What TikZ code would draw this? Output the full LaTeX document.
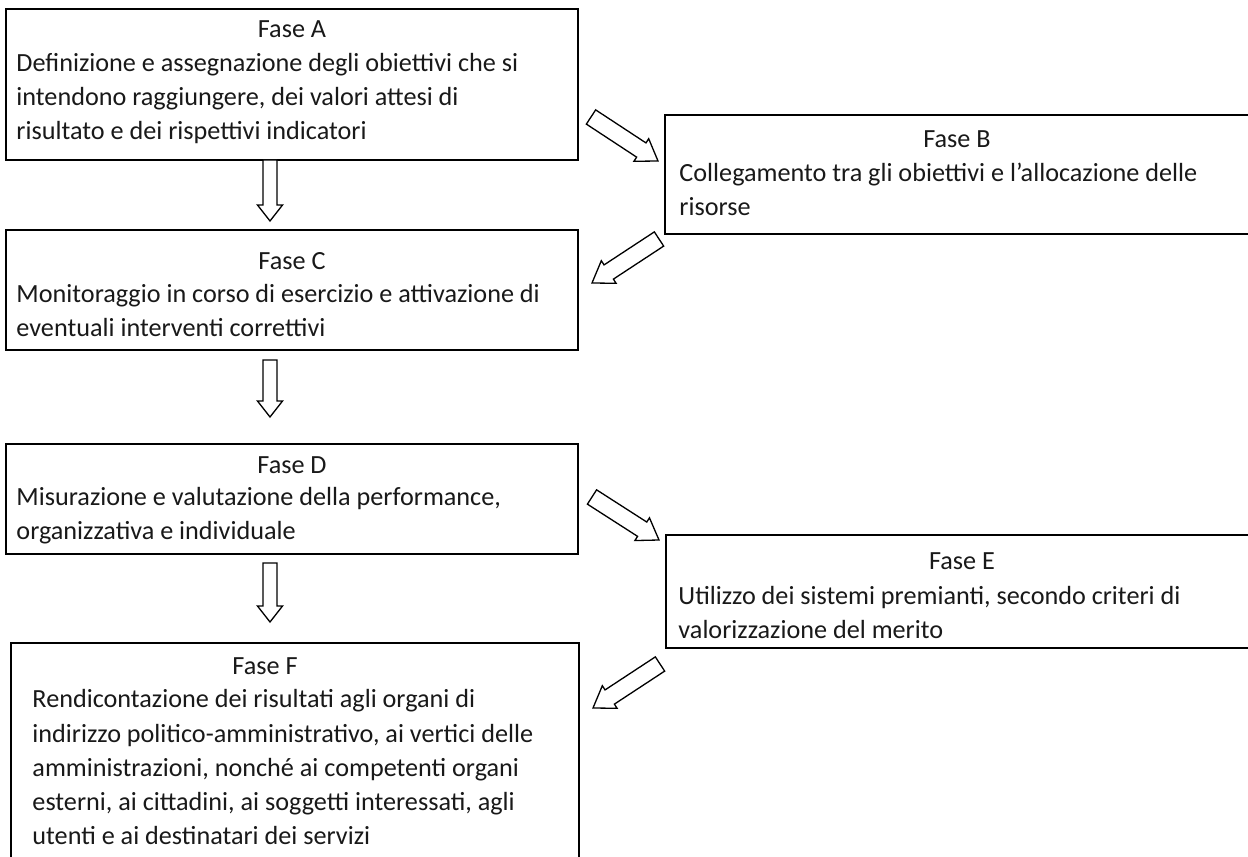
\documentclass[tikz,border=0pt]{standalone}
\usepackage{fontspec}
\setmainfont{Carlito}
\usetikzlibrary{calc,fit}
\tikzset{
  box/.style={draw=black, line width=0.6pt, inner sep=0pt, outer sep=0pt},
  title/.style={font=\fontsize{11}{14.28}\selectfont, text=black!90, inner sep=0pt, anchor=base},
  body/.style={font=\fontsize{11}{14.28}\selectfont, text=black!90, inner sep=0pt, anchor=base west, align=left},
  barrow/.style={draw=black, line width=0.55pt, line join=miter, fill=white},
}
% block arrow: #1 start, #2 tip, #3 half shaft width, #4 half head width, #5 head length
\newcommand\blockarr[5]{%
  \coordinate (bah) at ($(#2)!#5!(#1)$);
  \draw[barrow] ($(#1)!#3!90:(#2)$) -- ($(bah)!#3!90:(#2)$) -- ($(bah)!#4!90:(#2)$)
    -- (#2) -- ($(bah)!#4!-90:(#2)$) -- ($(bah)!#3!-90:(#2)$) -- ($(#1)!#3!-90:(#2)$) -- cycle;
}
\begin{document}
\begin{tikzpicture}[x=0.42pt,y=-0.42pt]
\useasboundingbox (0,0) rectangle (1248,857);
\fill[white] (0,0) rectangle (1248,857);

% boxes
\node[box, fit={(6,9) (578,160)}] (A) {};
\node[box, fit={(665,115) (1256,234)}] (B) {};
\node[box, fit={(6,230) (578,350)}] (C) {};
\node[box, fit={(6,444) (578,554)}] (D) {};
\node[box, fit={(666,535) (1256,648)}] (E) {};
\node[box, fit={(11,643) (579,880)}] (F) {};

% texts (body nodes anchored at the baseline of their last line)
\node[title] (tA) at (292,38) {Fase A};
\node[body] (bA) at (16,140) {Definizione e assegnazione degli obiettivi che si\\intendono raggiungere, dei valori attesi di\\risultato e dei rispettivi indicatori};

\node[title] (tB) at (957,148) {Fase B};
\node[body] (bB) at (679,216) {Collegamento tra gli obiettivi e l’allocazione delle\\risorse};

\node[title] (tC) at (292,270) {Fase C};
\node[body] (bC) at (16,337) {Monitoraggio in corso di esercizio e attivazione di\\eventuali interventi correttivi};

\node[title] (tD) at (292,474) {Fase D};
\node[body] (bD) at (16,540) {Misurazione e valutazione della performance,\\organizzativa e individuale};

\node[title] (tE) at (962,570) {Fase E};
\node[body] (bE) at (678,639) {Utilizzo dei sistemi premianti, secondo criteri di\\valorizzazione del merito};

\node[title] (tF) at (265,675) {Fase F};
\node[body] (bF) at (32,844) {Rendicontazione dei risultati agli organi di\\indirizzo politico-amministrativo, ai vertici delle\\amministrazioni, nonché ai competenti organi\\esterni, ai cittadini, ai soggetti interessati, agli\\utenti e ai destinatari dei servizi};

% arrow end points
\coordinate (ac1) at (A.south -| 270,0);
\coordinate (ac2) at (270,221);
\coordinate (cd1) at (270,360);
\coordinate (cd2) at (270,417);
\coordinate (df1) at (270,563);
\coordinate (df2) at (270,622);
\coordinate (ab1) at (591,117);
\coordinate (ab2) at (658,161);
\coordinate (bc1) at (659,239);
\coordinate (bc2) at (592,283);
\coordinate (de1) at (592,497);
\coordinate (de2) at (659,540);
\coordinate (ef1) at (660,664);
\coordinate (ef2) at (593,708);

% vertical block arrows
\blockarr{ac1}{ac2}{2.94pt}{5.25pt}{6.7pt}
\blockarr{cd1}{cd2}{2.94pt}{5.25pt}{6.7pt}
\blockarr{df1}{df2}{2.94pt}{5.25pt}{6.7pt}
% diagonal block arrows
\blockarr{ab1}{ab2}{3.57pt}{5.67pt}{8.4pt}
\blockarr{bc1}{bc2}{3.57pt}{5.67pt}{8.4pt}
\blockarr{de1}{de2}{3.57pt}{5.67pt}{8.4pt}
\blockarr{ef1}{ef2}{3.57pt}{5.67pt}{8.4pt}
\end{tikzpicture}
\end{document}
